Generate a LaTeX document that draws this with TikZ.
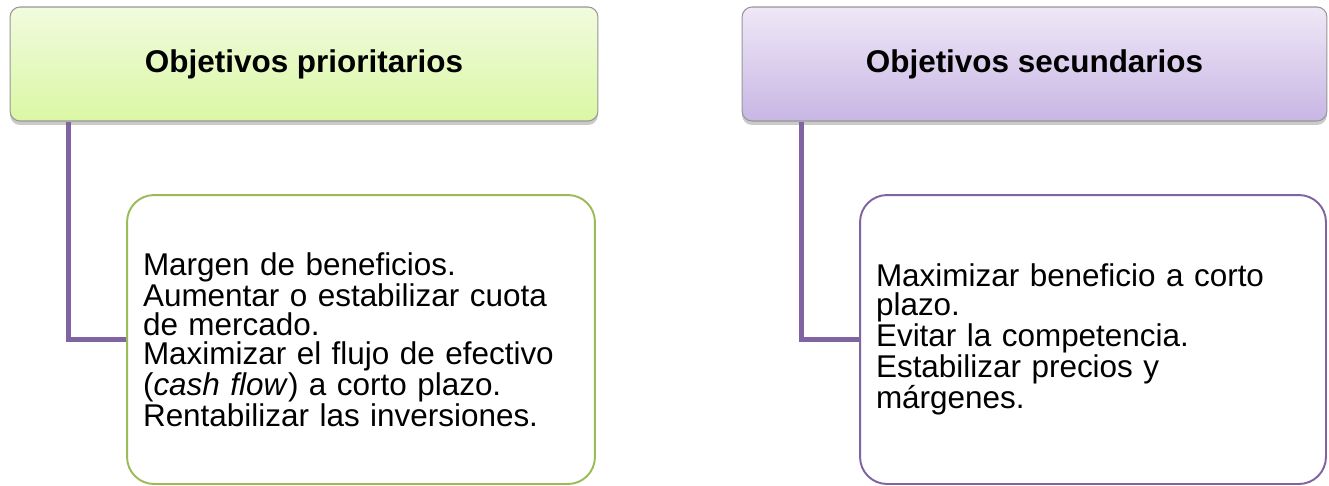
\documentclass[tikz,border=0pt]{standalone}
\usepackage{fontspec}
\setmainfont{Liberation Sans}
\usetikzlibrary{shadows,positioning}

\definecolor{hdrgreentop}{RGB}{241,251,222}
\definecolor{hdrgreenbot}{RGB}{218,247,164}
\definecolor{hdrpurpletop}{RGB}{239,232,247}
\definecolor{hdrpurplebot}{RGB}{200,182,228}
\definecolor{hdrborder}{RGB}{150,150,150}
\definecolor{boxgreen}{RGB}{155,187,89}
\definecolor{boxpurple}{RGB}{128,100,162}

\setlength{\lineskiplimit}{-20pt}

\tikzset{
  header/.style={draw=hdrborder, line width=0.6pt, rounded corners=0.2cm,
    minimum height=2.28cm, font=\fontsize{17.9}{21}\selectfont\bfseries,
    drop shadow={shadow xshift=0pt, shadow yshift=-0.8mm, opacity=0.35, fill=black!60}},
  itembox/.style={draw, line width=1.1pt, fill=white, rounded corners=0.54cm,
    minimum height=5.78cm, inner xsep=0.32cm, align=left,
    font=\fontsize{17.9}{16.4}\selectfont},
  link/.style={draw=boxpurple, line width=2.8pt}
}

\begin{document}
\begin{tikzpicture}[x=0.02cm, y=-0.02cm]
  \useasboundingbox (0,0) rectangle (1329,485);

  \node[header, minimum width=11.76cm, top color=hdrgreentop, bottom color=hdrgreenbot]
    (lhead) at (304,64) {Objetivos prioritarios};
  \node[header, minimum width=11.7cm, top color=hdrpurpletop, bottom color=hdrpurplebot]
    (rhead) at (1034.5,64) {Objetivos secundarios};

  \node[itembox, draw=boxgreen, minimum width=9.36cm, text width=8.72cm]
    (lchild) at (361,339.5) {Margen de beneficios.\\
      Aumentar o estabilizar cuota\\
      de mercado.\\
      Maximizar el flujo de efectivo\\
      (\textit{cash flow}) a corto plazo.\\
      Rentabilizar las inversiones.};
  \node[itembox, draw=boxpurple, minimum width=9.32cm, text width=8.68cm]
    (rchild) at (1093,339.5) {Maximizar beneficio a corto\\
      plazo.\\
      Evitar la competencia.\\
      Estabilizar precios y\\
      márgenes.};

  \draw[link] ([xshift=1.18cm]lhead.south west) |- (lchild.west);
  \draw[link] ([xshift=1.2cm]rhead.south west) |- (rchild.west);
\end{tikzpicture}
\end{document}
